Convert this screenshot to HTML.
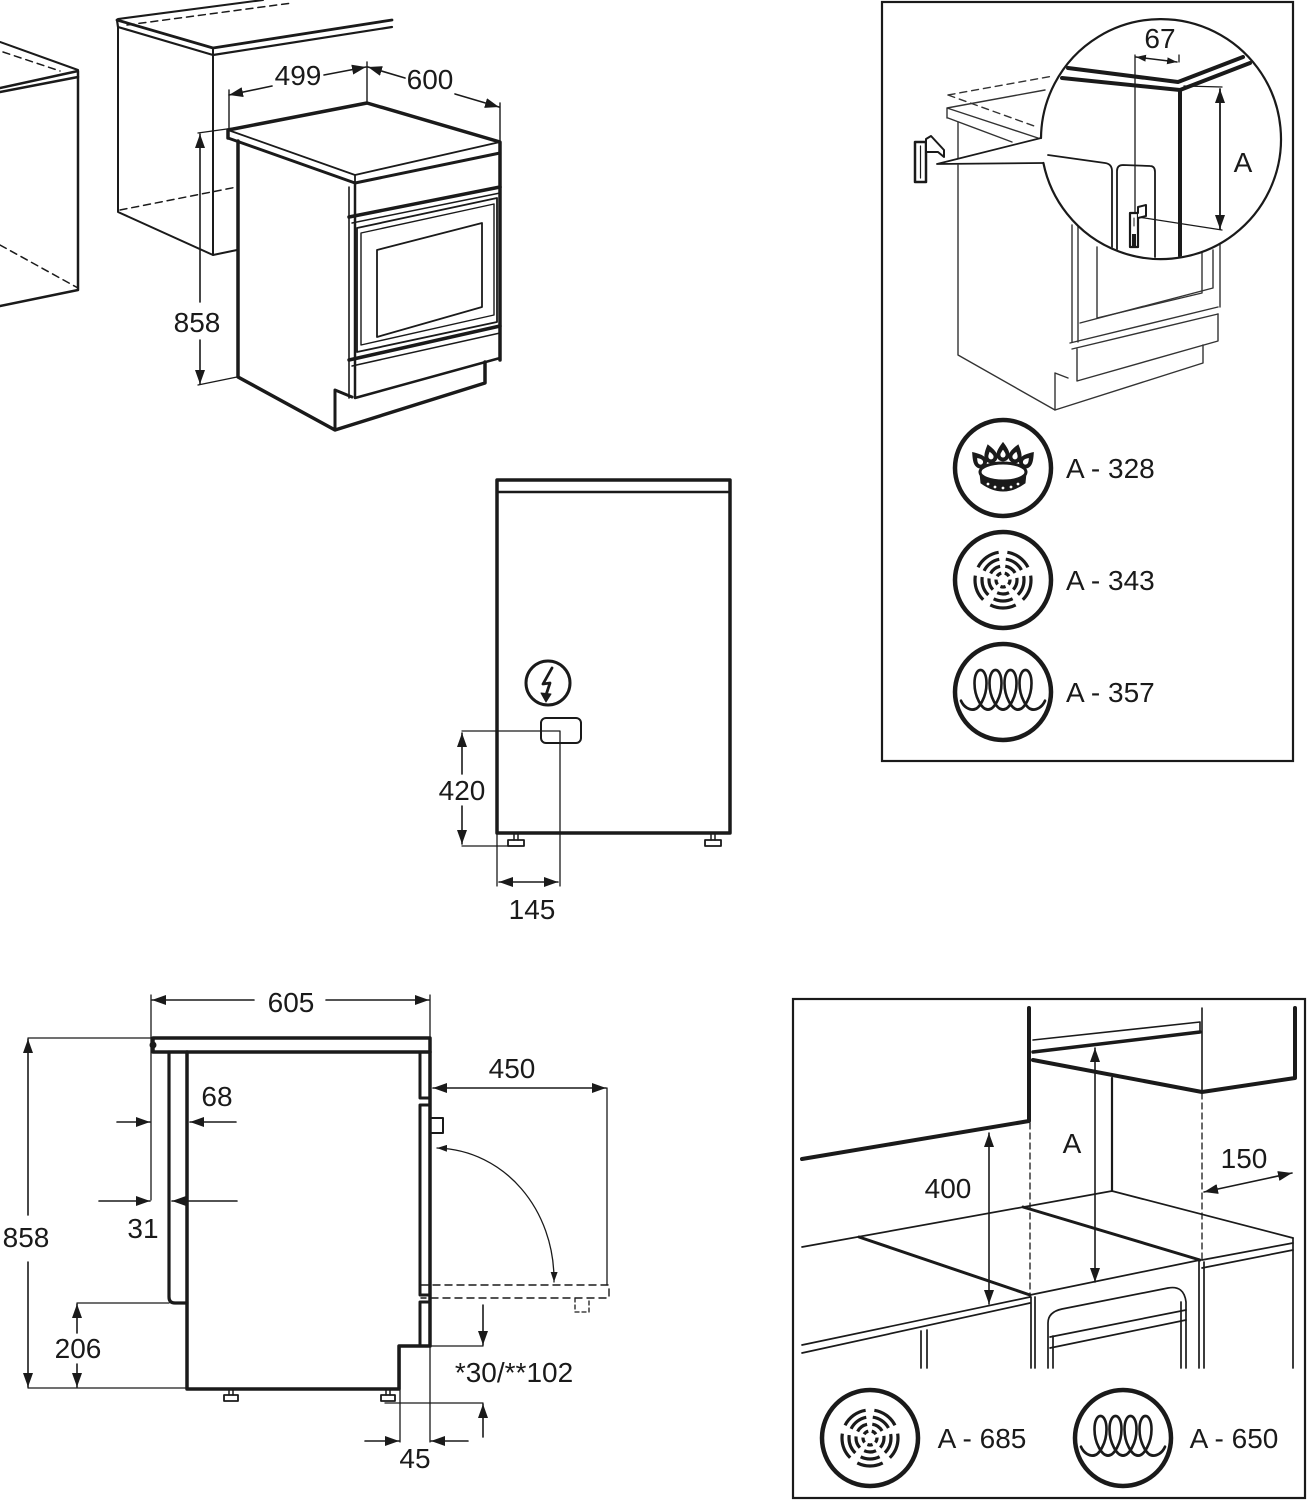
<!DOCTYPE html>
<html><head><meta charset="utf-8"><style>
html,body{margin:0;padding:0;background:#fff;}
svg{display:block}
text{font-family:"Liberation Sans",Arial,sans-serif;font-size:28px;fill:#1a1a1a}
</style></head><body>
<svg width="1309" height="1500" viewBox="0 0 1309 1500" xmlns="http://www.w3.org/2000/svg">
<defs>
<marker id="ar" viewBox="0 0 14 10" refX="14" refY="5" markerWidth="14" markerHeight="10" orient="auto-start-reverse" markerUnits="userSpaceOnUse"><path d="M0,0 L14,5 L0,10 z" fill="#1a1a1a"/></marker>
<marker id="as" viewBox="0 0 10 7" refX="10" refY="3.5" markerWidth="10" markerHeight="7" orient="auto-start-reverse" markerUnits="userSpaceOnUse"><path d="M0,0 L10,3.5 L0,7 z" fill="#1a1a1a"/></marker>
<clipPath id="cc"><circle cx="1161" cy="139" r="119"/></clipPath>
</defs>

<g fill="none" stroke="#1a1a1a" stroke-linejoin="round" stroke-linecap="round">

<!-- ===== TOP LEFT ===== -->
<path d="M0,42 L78,70" stroke-width="2"/>
<path d="M3,52 L60,71" stroke-width="1.5" stroke-dasharray="7,5"/>
<path d="M0,88 L78,71 L78,77 L0,92" stroke-width="2.5"/>
<path d="M78,77 L78,290 L0,306" stroke-width="2.5"/>
<path d="M0,245 L78,288" stroke-width="1.5" stroke-dasharray="7,5"/>

<path d="M118,19 L263,0" stroke-width="2"/>
<path d="M127,25 L292,3" stroke-width="1.5" stroke-dasharray="7,5"/>
<path d="M117,20 L213,48 L392,20" stroke-width="2.8"/>
<path d="M117,20 L118,27 L213,55 L392,27" stroke-width="2.2"/>
<path d="M213,48 L213,55" stroke-width="2"/>
<path d="M118,27 L118,212 L213,255 L237,250" stroke-width="2"/>
<path d="M213,55 L213,255" stroke-width="2"/>
<path d="M120,210 L237,187" stroke-width="1.5" stroke-dasharray="7,5"/>

<path d="M228,138 L228,130 L367,103 L500,142 L500,360" stroke-width="3.5"/>
<path d="M228,138 L355,183 L500,153" stroke-width="3"/>
<path d="M228,130 L355,175 L500,142" stroke-width="1.8"/>
<path d="M355,175 L355,183" stroke-width="1.8"/>
<path d="M238,141 L238,377 L335,430 L485,383 L485,362" stroke-width="3.5"/>
<path d="M335,430 L335,390 L352,397" stroke-width="3"/>
<path d="M349,187 L349,398" stroke-width="1.6"/>
<path d="M355,183 L355,398 L500,358" stroke-width="2.5"/>
<path d="M349,217 L500,187" stroke-width="3.5"/>
<path d="M352,223 L500,193" stroke-width="1.5"/>
<path d="M357,228 L497,198 L497,322 L357,352 Z" stroke-width="1.8"/>
<path d="M361,233 L494,204 L494,315 L361,345 Z" stroke-width="1.4"/>
<path d="M377,250 L482,223 L482,307 L377,337 Z" stroke-width="1.8"/>
<path d="M349,360 L500,326" stroke-width="3.5"/>
<path d="M352,366 L500,333" stroke-width="1.5"/>

<path d="M229,90 L229,128 M367,62 L367,102 M500,103 L500,142" stroke-width="1.4"/>
<path d="M272,86 L229,95" stroke-width="1.6" marker-end="url(#ar)"/>
<path d="M324,75 L366,67" stroke-width="1.6" marker-end="url(#ar)"/>
<path d="M405,78 L368,67" stroke-width="1.6" marker-end="url(#ar)"/>
<path d="M455,94 L499,107" stroke-width="1.6" marker-end="url(#ar)"/>
<path d="M200,302 L200,134" stroke-width="1.6" marker-end="url(#ar)"/>
<path d="M200,340 L200,384" stroke-width="1.6" marker-end="url(#ar)"/>
<path d="M198,133 L234,128 M198,385 L237,377" stroke-width="1.3"/>

<!-- ===== MIDDLE ===== -->
<rect x="497" y="480" width="233" height="353" stroke-width="3.5"/>
<path d="M497,492 L730,492" stroke-width="2.5"/>
<circle cx="548" cy="683" r="22" stroke-width="3"/>
<path d="M552,668 L543,684 L550,683 L546,695" stroke-width="2.8"/>
<path d="M541,693 L546,702 L551,694 Z" fill="#1a1a1a" stroke-width="1"/>
<rect x="541" y="718" width="40" height="25" rx="5" stroke-width="2"/>
<path d="M462,731 L560,731 L560,886 M497,833 L497,886 M462,846 L520,846" stroke-width="1.3"/>
<path d="M462,774 L462,733" stroke-width="1.6" marker-end="url(#ar)"/>
<path d="M462,806 L462,844" stroke-width="1.6" marker-end="url(#ar)"/>
<path d="M499,882 L558,882" stroke-width="1.6" marker-start="url(#ar)" marker-end="url(#ar)"/>
<path d="M514,834 L514,840 M518,834 L518,840" stroke-width="1.5"/>
<rect x="508" y="840" width="16" height="6" stroke-width="1.8"/>
<path d="M711,834 L711,840 M715,834 L715,840" stroke-width="1.5"/>
<rect x="705" y="840" width="16" height="6" stroke-width="1.8"/>

<!-- ===== BOTTOM LEFT ===== -->
<rect x="153" y="1038" width="277" height="14" stroke-width="3.5"/>
<circle cx="153" cy="1045" r="3" fill="#1a1a1a" stroke-width="1"/>
<path d="M169,1052 L169,1297 Q169,1303 175,1303 L187,1303" stroke-width="3.2"/>
<path d="M187,1052 L187,1389 L399,1389 L399,1346 L430,1346 L430,1052" stroke-width="3.5"/>
<path d="M420,1052 L420,1098 L430,1098" stroke-width="3"/>
<rect x="420" y="1105" width="10" height="190" stroke-width="3"/>
<path d="M420,1302 L430,1302 M420,1302 L420,1346" stroke-width="3"/>
<rect x="430" y="1118" width="13" height="15" stroke-width="2"/>
<path d="M229,1389 L229,1395 M233,1389 L233,1395" stroke-width="1.5"/>
<rect x="224" y="1395" width="14" height="6" stroke-width="1.8"/>
<path d="M386,1389 L386,1395 M390,1389 L390,1395" stroke-width="1.5"/>
<rect x="381" y="1395" width="14" height="6" stroke-width="1.8"/>
<path d="M151,995 L151,1200 M430,995 L430,1038 M28,1038 L153,1038 M28,1388 L187,1388 M77,1303 L169,1303" stroke-width="1.3"/>
<path d="M254,1000 L152,1000" stroke-width="1.6" marker-end="url(#ar)"/>
<path d="M326,1000 L429,1000" stroke-width="1.6" marker-end="url(#ar)"/>
<path d="M28,1215 L28,1039" stroke-width="1.6" marker-end="url(#ar)"/>
<path d="M28,1262 L28,1387" stroke-width="1.6" marker-end="url(#ar)"/>
<path d="M77,1333 L77,1304" stroke-width="1.6" marker-end="url(#ar)"/>
<path d="M77,1364 L77,1387" stroke-width="1.6" marker-end="url(#ar)"/>
<path d="M117,1122 L150,1122" stroke-width="1.6" marker-end="url(#ar)"/>
<path d="M236,1122 L190,1122" stroke-width="1.6" marker-end="url(#ar)"/>
<path d="M99,1201 L150,1201" stroke-width="1.6" marker-end="url(#ar)"/>
<path d="M237,1201 L172,1201" stroke-width="1.6" marker-end="url(#ar)"/>
<path d="M433,1088 L606,1088" stroke-width="1.6" marker-start="url(#ar)" marker-end="url(#ar)"/>
<path d="M607,1088 L607,1285" stroke-width="1.3"/>
<path d="M421,1285 L609,1285 L609,1298 L421,1298" stroke-width="1.4" stroke-dasharray="7,5"/>
<path d="M575,1298 L575,1312 L589,1312 L589,1298" stroke-width="1.3" stroke-dasharray="4,3"/>
<path d="M437,1148 C505,1150 555,1210 554,1282" stroke-width="1.3" marker-start="url(#as)" marker-end="url(#as)"/>
<path d="M430,1346 L483,1346 M385,1403 L483,1403 M400,1346 L400,1442 M430,1346 L430,1442" stroke-width="1.3"/>
<path d="M483,1305 L483,1345" stroke-width="1.6" marker-end="url(#ar)"/>
<path d="M483,1437 L483,1404" stroke-width="1.6" marker-end="url(#ar)"/>
<path d="M365,1441 L399,1441" stroke-width="1.6" marker-end="url(#ar)"/>
<path d="M468,1441 L431,1441" stroke-width="1.6" marker-end="url(#ar)"/>

<!-- ===== TOP RIGHT BOX ===== -->
<rect x="882" y="2" width="411" height="759" stroke-width="2.2" stroke-linejoin="miter"/>
<g stroke="#333" stroke-width="1.4">
<path d="M947,108 L1045,90 M947,108 L947,118 M947,108 L1038,138 M948,118 L1012,142"/>
<path d="M948,95 L1053,76 M948,95 L1037,127" stroke-dasharray="7,5"/>
<path d="M958,122 L958,355 L1055,410 L1203,363 L1203,345"/>
<path d="M1055,410 L1055,373 L1068,378"/>
<path d="M1072,225 L1072,342 M1078,225 L1078,342"/>
<path d="M1097,247 L1097,318 L1202,293 L1202,253"/>
<path d="M1080,323 L1213,288 L1213,250"/>
<path d="M1220,245 L1220,307"/>
<path d="M1070,343 L1218,307 M1072,349 L1218,314"/>
<path d="M1077,349 L1077,381 L1218,341 L1218,314"/>
</g>
<polygon points="937,165 1041,138 1043.4,163" fill="#fff" stroke="none"/>
<path d="M937,164 L1041,138 M937,164 L1043.4,163" stroke-width="1.8"/>
<rect x="915" y="142" width="11" height="40" fill="#fff" stroke-width="2.5"/>
<path d="M920.5,146 L920.5,178" stroke-width="1.2"/>
<path d="M926,139 L931,136 L944,150 L944,157 L938,152 L926,152 Z" fill="#fff" stroke-width="2"/>
<path d="M1041,138 A120,120 0 1 1 1043.4,163" fill="#fff" stroke-width="2.2"/>
<g clip-path="url(#cc)">
<path d="M1068,68 L1178,82 L1243,57" stroke-width="4"/>
<path d="M1062,78 L1180,90 L1250,63" stroke-width="4"/>
<path d="M1180,90 L1180,260" stroke-width="4"/>
<path d="M1135,55 L1135,247 M1179,55 L1179,62" stroke-width="1.3"/>
<path d="M1048,155 L1105,163 Q1112,164 1112,171 L1112,250" stroke-width="1.8"/>
<path d="M1117,250 L1117,171 Q1117,165 1123,165 L1150,166 Q1155,166 1155,172 L1155,258" stroke-width="1.8"/>
<path d="M1184,86 L1222,87 M1138,217 L1222,230" stroke-width="1.3"/>
</g>
<path d="M1136,57 L1177,62" stroke-width="1.5" marker-start="url(#as)" marker-end="url(#as)"/>
<path d="M1220,89 L1220,229" stroke-width="1.8" marker-start="url(#ar)" marker-end="url(#ar)"/>
<rect x="1130" y="213" width="8" height="34" fill="#fff" stroke-width="2.2"/>
<path d="M1138,213 L1138,207 L1146,205 L1146,216 L1138,218" fill="#fff" stroke-width="2"/>
<path d="M1134,218 L1134,226" stroke-width="1"/>
<rect x="1132" y="234" width="4" height="12" fill="#1a1a1a" stroke="none"/>

<circle cx="1003" cy="468" r="48" stroke-width="4.5"/>
<circle cx="1003" cy="580" r="48" stroke-width="4.5"/>
<circle cx="1003" cy="692" r="48" stroke-width="4.5"/>

<!-- burner -->
<g transform="translate(1003,468)">
<path d="M-23,5 L-22,15 Q0,31 22,15 L23,5 Q0,22 -23,5 Z" fill="#1a1a1a" stroke-width="1"/>
<ellipse cx="0" cy="4" rx="23" ry="9" fill="#fff" stroke-width="3"/>
<g fill="#fff" stroke="none">
<circle cx="-15" cy="16" r="1.4"/><circle cx="-8" cy="19" r="1.4"/><circle cx="0" cy="20" r="1.4"/><circle cx="8" cy="19" r="1.4"/><circle cx="15" cy="16" r="1.4"/>
</g>
<g stroke="none">
<g transform="translate(0,-17) scale(1.3)"><path fill="#1a1a1a" d="M0,-7 C3,-3 5,0 5,3 A5,5 0 0 1 -5,3 C-5,0 -3,-3 0,-7Z"/><path fill="#fff" d="M0,-1 C1.5,1 2,2 2,3 A2,2 0 0 1 -2,3 C-2,2 -1.5,1 0,-1Z"/></g>
<g transform="translate(-13,-15) rotate(-15) scale(1.3)"><path fill="#1a1a1a" d="M0,-7 C3,-3 5,0 5,3 A5,5 0 0 1 -5,3 C-5,0 -3,-3 0,-7Z"/><path fill="#fff" d="M0,-1 C1.5,1 2,2 2,3 A2,2 0 0 1 -2,3 C-2,2 -1.5,1 0,-1Z"/></g>
<g transform="translate(13,-15) rotate(15) scale(1.3)"><path fill="#1a1a1a" d="M0,-7 C3,-3 5,0 5,3 A5,5 0 0 1 -5,3 C-5,0 -3,-3 0,-7Z"/><path fill="#fff" d="M0,-1 C1.5,1 2,2 2,3 A2,2 0 0 1 -2,3 C-2,2 -1.5,1 0,-1Z"/></g>
<g transform="translate(-25,-9) rotate(-40) scale(1.3)"><path fill="#1a1a1a" d="M0,-7 C3,-3 5,0 5,3 A5,5 0 0 1 -5,3 C-5,0 -3,-3 0,-7Z"/><path fill="#fff" d="M0,-1 C1.5,1 2,2 2,3 A2,2 0 0 1 -2,3 C-2,2 -1.5,1 0,-1Z"/></g>
<g transform="translate(25,-9) rotate(40) scale(1.3)"><path fill="#1a1a1a" d="M0,-7 C3,-3 5,0 5,3 A5,5 0 0 1 -5,3 C-5,0 -3,-3 0,-7Z"/><path fill="#fff" d="M0,-1 C1.5,1 2,2 2,3 A2,2 0 0 1 -2,3 C-2,2 -1.5,1 0,-1Z"/></g>
</g>
</g>

<g transform="translate(1003,580)" stroke-width="3.2" stroke-linecap="butt">
<circle r="28" pathLength="100" stroke-dasharray="15 5" stroke-dashoffset="2.5"/>
<circle r="21" pathLength="100" stroke-dasharray="15 5" stroke-dashoffset="2.5"/>
<circle r="14" pathLength="100" stroke-dasharray="14 6" stroke-dashoffset="2"/>
<circle r="7" pathLength="100" stroke-dasharray="12 8" stroke-dashoffset="1"/>
</g>

<path transform="translate(1003,692) scale(1,1.1)" stroke-width="2.6" d="M-42,8 c3,6 8,8 12,8 c6.5,0 13.5,-12 13.5,-24 c0,-8 -3,-12 -6,-12 c-3,0 -6,4 -6,12 c0,12 7,24 13.5,24 c6.5,0 13.5,-12 13.5,-24 c0,-8 -3,-12 -6,-12 c-3,0 -6,4 -6,12 c0,12 7,24 13.5,24 c6.5,0 13.5,-12 13.5,-24 c0,-8 -3,-12 -6,-12 c-3,0 -6,4 -6,12 c0,12 7,24 13.5,24 c6.5,0 13.5,-12 13.5,-24 c0,-8 -3,-12 -6,-12 c-3,0 -6,4 -6,12 c0,12 7,24 13.5,24 c4,0 9,-2 12,-8"/>

<!-- ===== BOTTOM RIGHT BOX ===== -->
<rect x="793" y="999" width="512" height="499" stroke-width="2.2" stroke-linejoin="miter"/>
<path d="M802,1159 L1029,1121 L1029,1008" stroke-width="4"/>
<path d="M1295,1008 L1295,1078 L1202,1092 L1033,1060" stroke-width="4"/>
<path d="M1033,1052 L1200,1032" stroke-width="3.5"/>
<path d="M1033,1040 L1200,1022 L1200,1032" stroke-width="1.6"/>
<path d="M1202,1008 L1202,1092" stroke-width="1.6"/>
<path d="M1112,1078 L1112,1191" stroke-width="2.2"/>
<path d="M1030,1123 L1030,1297 M1202,1093 L1202,1260" stroke-width="1.3" stroke-dasharray="6,4"/>
<path d="M802,1247 L1112,1191 L1293,1238" stroke-width="1.7"/>
<path d="M859,1237 L1030,1295" stroke-width="3"/>
<path d="M1023,1207 L1200,1260" stroke-width="3"/>
<path d="M1030,1295 L1200,1260" stroke-width="1.7"/>
<path d="M1202,1260 L1293,1243 M1202,1268 L1293,1250" stroke-width="1.7"/>
<path d="M1293,1238 L1293,1368" stroke-width="1.7"/>
<path d="M802,1345 L1030,1297 M802,1353 L1030,1303" stroke-width="1.7"/>
<path d="M921,1331 L921,1368 M927,1330 L927,1368" stroke-width="1.7"/>
<path d="M1031,1297 L1031,1368 M1035,1297 L1035,1368" stroke-width="1.7"/>
<path d="M1199,1260 L1199,1368 M1204,1262 L1204,1368" stroke-width="1.7"/>
<path d="M1048,1368 L1048,1323 Q1048,1312 1062,1309 L1168,1288 Q1184,1285 1186,1302 L1186,1368" stroke-width="1.7"/>
<path d="M1053,1368 L1053,1336 M1181,1302 L1181,1368" stroke-width="1.7"/>
<path d="M1050,1337 L1186,1310 M1050,1348 L1186,1320" stroke-width="1.7"/>
<path d="M989,1133 L989,1304" stroke-width="1.6" marker-start="url(#ar)" marker-end="url(#ar)"/>
<path d="M1095,1048 L1095,1282" stroke-width="1.6" marker-start="url(#ar)" marker-end="url(#ar)"/>
<path d="M1204,1192 L1292,1173" stroke-width="1.6" marker-start="url(#ar)" marker-end="url(#ar)"/>

<circle cx="870" cy="1438" r="48" stroke-width="4.5"/>
<circle cx="1123" cy="1438" r="48" stroke-width="4.5"/>
<g transform="translate(870,1438)" stroke-width="3.2" stroke-linecap="butt">
<circle r="28" pathLength="100" stroke-dasharray="15 5" stroke-dashoffset="2.5"/>
<circle r="21" pathLength="100" stroke-dasharray="15 5" stroke-dashoffset="2.5"/>
<circle r="14" pathLength="100" stroke-dasharray="14 6" stroke-dashoffset="2"/>
<circle r="7" pathLength="100" stroke-dasharray="12 8" stroke-dashoffset="1"/>
</g>
<path transform="translate(1123,1438) scale(1,1.1)" stroke-width="2.6" d="M-42,8 c3,6 8,8 12,8 c6.5,0 13.5,-12 13.5,-24 c0,-8 -3,-12 -6,-12 c-3,0 -6,4 -6,12 c0,12 7,24 13.5,24 c6.5,0 13.5,-12 13.5,-24 c0,-8 -3,-12 -6,-12 c-3,0 -6,4 -6,12 c0,12 7,24 13.5,24 c6.5,0 13.5,-12 13.5,-24 c0,-8 -3,-12 -6,-12 c-3,0 -6,4 -6,12 c0,12 7,24 13.5,24 c6.5,0 13.5,-12 13.5,-24 c0,-8 -3,-12 -6,-12 c-3,0 -6,4 -6,12 c0,12 7,24 13.5,24 c4,0 9,-2 12,-8"/>
</g>

<!-- ===== TEXT ===== -->
<g text-anchor="middle">
<text x="298" y="85">499</text>
<text x="430" y="89">600</text>
<text x="197" y="332">858</text>
<text x="462" y="800">420</text>
<text x="532" y="919">145</text>
<text x="291" y="1012">605</text>
<text x="512" y="1078">450</text>
<text x="217" y="1106">68</text>
<text x="143" y="1238">31</text>
<text x="26" y="1247">858</text>
<text x="78" y="1358">206</text>
<text x="514" y="1382">*30/**102</text>
<text x="415" y="1468">45</text>
<text x="948" y="1198">400</text>
<text x="1072" y="1153">A</text>
<text x="1244" y="1168">150</text>
<text x="982" y="1448">A - 685</text>
<text x="1234" y="1448">A - 650</text>
<text x="1160" y="48">67</text>
<text x="1243" y="172">A</text>
</g>
<text x="1066" y="478">A - 328</text>
<text x="1066" y="590">A - 343</text>
<text x="1066" y="702">A - 357</text>
</svg>
</body></html>
